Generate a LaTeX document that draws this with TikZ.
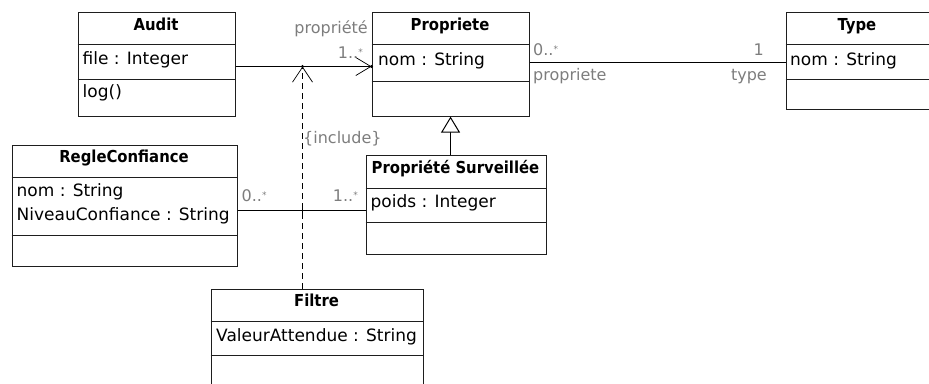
\documentclass[tikz,border=0pt]{standalone}
\usepackage{fontspec}
\setmainfont{DejaVu Sans}
\newfontfamily\condfont{DejaVu Sans Condensed}
\usetikzlibrary{arrows.meta}
\definecolor{lblgray}{RGB}{125,125,125}
\definecolor{boxline}{RGB}{30,30,30}
\newcommand{\mystar}{\raisebox{3pt}{\fontsize{9}{9}\selectfont *}}
\tikzset{
  umlbox/.style={draw=boxline, line width=1.1pt, fill=white, inner sep=0pt, anchor=north west},
  divider/.style={draw=boxline, line width=1.1pt},
  ctitle/.style={font=\condfont\bfseries\fontsize{16.5}{18}\selectfont, anchor=base, inner sep=0pt},
  cattr/.style={font=\fontsize{17}{23}\selectfont, anchor=base west, inner sep=0pt, align=left},
  lbl/.style={font=\fontsize{16}{18}\selectfont, text=lblgray, inner sep=0pt},
  assoc/.style={draw=black, line width=1pt},
  incl/.style={draw=black, line width=1pt, dash pattern=on 6pt off 4pt},
}
\begin{document}
\begin{tikzpicture}[x=1pt,y=-1pt]
\useasboundingbox (0,0) rectangle (929,383);
\clip (0,0) rectangle (929,383);

% ---- Audit
\node[umlbox, minimum width=157pt, minimum height=104pt] (audit) at (77.5,11.5) {};
\draw[divider] (77.5,44.5) -- (234.5,44.5);
\draw[divider] (77.5,79.5) -- (234.5,79.5);
\node[ctitle] (auditt) at (156,30) {Audit};
\node[cattr] (audita) at (82.5,64.5) {file : Integer};
\node[cattr] (audito) at (82.5,97) {log()};

% ---- Propriete
\node[umlbox, minimum width=157pt, minimum height=104pt] (prop) at (371.5,11.5) {};
\draw[divider] (371.5,44.5) -- (528.5,44.5);
\draw[divider] (371.5,81.5) -- (528.5,81.5);
\node[ctitle] (propt) at (450,30) {Propriete};
\node[cattr] (propa) at (378,65) {nom : String};

% ---- Type
\node[umlbox, minimum width=160pt, minimum height=97pt] (type) at (785.5,11.5) {};
\draw[divider] (785.5,44.5) -- (945,44.5);
\draw[divider] (785.5,79.5) -- (945,79.5);
\node[ctitle] (typet) at (857,30) {Type};
\node[cattr] (typea) at (790,65) {nom : String};

% ---- RegleConfiance
\node[umlbox, minimum width=225pt, minimum height=121pt] (regle) at (11.5,144.5) {};
\draw[divider] (11.5,177.5) -- (236.5,177.5);
\draw[divider] (11.5,235.5) -- (236.5,235.5);
\node[ctitle] (reglet) at (124,162.3) {RegleConfiance};
\node[cattr] (reglea1) at (16.5,196.7) {nom : String};
\node[cattr] (reglea2) at (16.5,220) {NiveauConfiance : String};

% ---- Propriete Surveillee
\node[umlbox, minimum width=180pt, minimum height=99pt] (ps) at (365.5,154.5) {};
\draw[divider] (365.5,188.5) -- (545.5,188.5);
\draw[divider] (365.5,222.5) -- (545.5,222.5);
\node[ctitle] (pst) at (455.5,173.3) {Propriété Surveillée};
\node[cattr] (psa) at (370.5,207.7) {poids : Integer};

% ---- Filtre
\node[umlbox, minimum width=212pt, minimum height=120pt] (filtre) at (210.5,288.5) {};
\draw[divider] (210.5,321.5) -- (422.5,321.5);
\draw[divider] (210.5,355.5) -- (422.5,355.5);
\node[ctitle] (filtret) at (316.5,306) {Filtre};
\node[cattr] (filtrea) at (216,341) {ValeurAttendue : String};

% ---- connectors
\coordinate (j1) at (302.5,66.5);
\coordinate (j2) at (302.5,210.5);
\coordinate (pt1) at (0,62.5);

\draw[assoc, -{Straight Barb[length=15pt,width=18pt,line width=0.7pt]}] (audit.east |- j1) -- (prop.west |- j1);
\fill (prop.west |- j1) circle (1.6pt);
\fill (j1) circle (1.6pt);

\draw[incl, -{Straight Barb[length=15pt,width=20pt,line width=0.7pt]}] (j1 |- filtre.north) -- (j1);

\draw[assoc] (prop.east |- pt1) -- (type.west |- pt1);

\draw[assoc] (regle.east |- j2) -- (ps.west |- j2);
\draw[line width=1pt] ([yshift=-3pt]j2) -- ([yshift=3pt]j2);

\draw[assoc, -{Triangle[open, length=16pt, width=19pt, line width=1pt, fill=white]}] (prop.south |- ps.north) -- (prop.south);

% ---- labels
\node[lbl, anchor=base east] (l1) at (368,33.3) {propriété};
\node[lbl, anchor=base east] (l2) at (363,58.3) {1..\mystar};
\node[lbl, anchor=base west] (l3) at (533,55) {0..\mystar};
\node[lbl, anchor=base west] (l4) at (533,80) {propriete};
\node[lbl, anchor=base east] (l5) at (764,55) {1};
\node[lbl, anchor=base east] (l6) at (767,80) {type};
\node[lbl, anchor=base west] (l7) at (303,143.3) {\{include\}};
\node[lbl, anchor=base west] (l8) at (241.5,201.5) {0..\mystar};
\node[lbl, anchor=base east] (l9) at (358,201.5) {1..\mystar};
\end{tikzpicture}
\end{document}
